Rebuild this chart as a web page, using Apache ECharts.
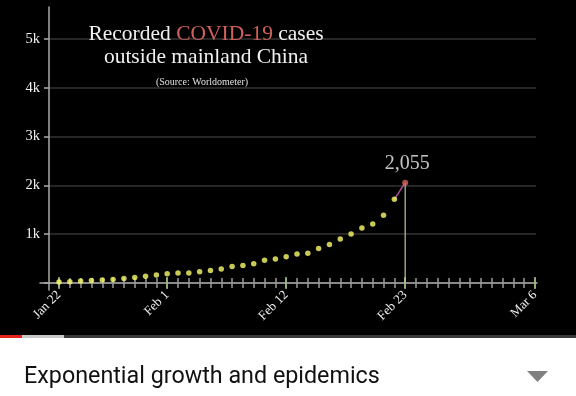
<!DOCTYPE html>
<html>
<head>
<meta charset="utf-8">
<script src="https://cdn.jsdelivr.net/npm/echarts@6/dist/echarts.min.js"></script>
<style>
  html, body { margin: 0; padding: 0; background: #fff; }
  #chart { width: 576px; height: 396px; }
</style>
</head>
<body>
<div id="chart"></div>
<script>
// one category per day, Jan 22 .. Mar 6 2020
var dates = [
  "Jan 22", "Jan 23", "Jan 24", "Jan 25", "Jan 26", "Jan 27", "Jan 28", "Jan 29", "Jan 30", "Jan 31",
  "Feb 1", "Feb 2", "Feb 3", "Feb 4", "Feb 5", "Feb 6", "Feb 7", "Feb 8", "Feb 9", "Feb 10",
  "Feb 11", "Feb 12", "Feb 13", "Feb 14", "Feb 15", "Feb 16", "Feb 17", "Feb 18", "Feb 19", "Feb 20",
  "Feb 21", "Feb 22", "Feb 23", "Feb 24", "Feb 25", "Feb 26", "Feb 27", "Feb 28", "Feb 29",
  "Mar 1", "Mar 2", "Mar 3", "Mar 4", "Mar 5", "Mar 6"
];
var tickLabels = ["Jan 22", "Feb 1", "Feb 12", "Feb 23", "Mar 6"];

// recorded cases outside mainland China, Jan 22 .. Feb 23
var cases = [
  20, 25, 40, 50, 62, 72, 92, 112, 140, 162,
  188, 204, 206, 232, 258, 285, 338, 360, 394, 468,
  490, 537, 596, 612, 706, 788, 904, 1006, 1128, 1210,
  1388, 1714, 2055
];

var serif = "Liberation Serif";
var majorIdx = tickLabels.map(function (d) { return dates.indexOf(d); });
var isMajor = function (i) { return majorIdx.indexOf(i) > -1; };
var last = cases.length - 1;

var chart = echarts.init(document.getElementById("chart"));
var option = {
  backgroundColor: "#000",
  animation: false,
  title: [
    {
      text: "{w|Recorded }{r|COVID-19}{w| cases}\n{w|outside mainland China}",
      left: 206, top: 23, textAlign: "center", padding: 0,
      textStyle: {
        fontWeight: "normal",
        rich: {
          w: { color: "#f0f0f0", fontFamily: serif, fontSize: 21.5, fontWeight: "normal", lineHeight: 23 },
          r: { color: "#d0605c", fontFamily: serif, fontSize: 21.5, fontWeight: "normal", lineHeight: 23 },
        },
      },
    },
    {
      text: "(Source: Worldometer)",
      left: 202, top: 76, textAlign: "center", padding: 0,
      textStyle: { color: "#e0e0e0", fontFamily: serif, fontSize: 10, fontWeight: "normal", lineHeight: 12 },
    },
    {
      text: "Exponential growth and epidemics",
      left: 24, top: 363, padding: 0,
      textStyle: { color: "#111", fontFamily: "Roboto", fontSize: 23.3, fontWeight: "normal", lineHeight: 28 },
    },
  ],
  graphic: [
    { type: "rect", shape: { x: 0, y: 338, width: 576, height: 58 }, style: { fill: "#fff" } },
    { type: "rect", shape: { x: 0, y: 335, width: 576, height: 3 }, style: { fill: "#3a3a3a" } },
    { type: "rect", shape: { x: 22, y: 335, width: 42, height: 3 }, style: { fill: "#c8c8c8" } },
    { type: "rect", shape: { x: 0, y: 335, width: 22, height: 3 }, style: { fill: "#e5231b" } },
    { type: "polygon", shape: { points: [[527, 371], [548, 371], [537.5, 382]] }, style: { fill: "#808080" } },
  ],
  grid: [
    { left: 59, right: 41, top: 39, bottom: 113 }, // data
    { left: 49, right: 40, top: 39, bottom: 113 }, // gridlines + y labels
    { left: 40, right: 39, top: 7, bottom: 106 },  // long axis lines
  ],
  xAxis: [
    {
      gridIndex: 0, type: "category", data: dates, boundaryGap: false, position: "bottom",
      axisLine: { show: false }, axisTick: { show: false }, splitLine: { show: false },
      axisLabel: {
        interval: function (i) { return isMajor(i); },
        rotate: 45, margin: 10, color: "#f0f0f0", fontFamily: serif, fontSize: 13,
      },
    },
    {
      gridIndex: 0, type: "category", data: dates, boundaryGap: false, position: "bottom", offset: -5,
      axisLine: { show: false }, axisLabel: { show: false },
      axisTick: { show: true, interval: 0, length: 10, lineStyle: { color: "#9a9a9a", width: 1.5 } },
    },
    {
      gridIndex: 0, type: "category", data: dates, boundaryGap: false, position: "bottom", offset: -6,
      axisLine: { show: false }, axisLabel: { show: false },
      axisTick: {
        show: true, length: 12, lineStyle: { color: "#9fbf7f", width: 1.5 },
        interval: function (i) { return isMajor(i); },
      },
    },
    { gridIndex: 1, type: "value", show: false },
    {
      gridIndex: 2, type: "value", min: -9, max: 488, position: "bottom",
      axisLine: { show: true, onZero: true, lineStyle: { color: "#aaa", width: 1.5 } },
      axisTick: { show: false }, axisLabel: { show: false }, splitLine: { show: false },
    },
  ],
  yAxis: [
    { gridIndex: 0, type: "value", min: 0, max: 5000, show: false },
    {
      gridIndex: 1, type: "value", min: 0, max: 5000, interval: 1000, position: "left",
      axisLine: { show: false },
      axisTick: { show: true, length: 5, lineStyle: { color: "#aaa", width: 1.5 } },
      axisLabel: {
        margin: 9, color: "#f0f0f0", fontFamily: serif, fontSize: 14.5,
        formatter: function (v) { return v === 0 ? "" : v / 1000 + "k"; },
      },
      splitLine: { lineStyle: { color: "#333", width: 1.5 } },
    },
    {
      gridIndex: 2, type: "value", min: -7, max: 276, position: "left",
      axisLine: { show: true, onZero: true, lineStyle: { color: "#aaa", width: 1.5 } },
      axisTick: { show: false }, axisLabel: { show: false }, splitLine: { show: false },
    },
  ],
  series: [
    {
      type: "scatter", xAxisIndex: 0, yAxisIndex: 0,
      data: cases.slice(0, last).map(function (v, i) { return [dates[i], v]; }),
      symbolSize: 5.5, itemStyle: { color: "#fbfd6a" }, z: 5,
    },
    {
      type: "line", xAxisIndex: 0, yAxisIndex: 0,
      data: [[dates[last], 0], [dates[last], cases[last]]],
      symbol: "none", lineStyle: { color: "#b6c795", width: 1.2 },
    },
    {
      type: "line", xAxisIndex: 0, yAxisIndex: 0,
      data: [[dates[last - 1], cases[last - 1]], [dates[last], cases[last]]],
      symbol: "none", lineStyle: { color: "#b0509c", width: 1.5 },
    },
    {
      type: "scatter", xAxisIndex: 0, yAxisIndex: 0,
      data: [[dates[last], cases[last]]],
      symbolSize: 6, itemStyle: { color: "#d8655a" }, z: 6,
      label: {
        show: true, position: "top", distance: 6, offset: [2, 0],
        color: "#f4f4f4", fontFamily: serif, fontSize: 20,
        formatter: function (p) { return p.value[1].toLocaleString("en-US"); },
      },
    },
  ],
};
chart.setOption(option);
</script>
</body>
</html>
